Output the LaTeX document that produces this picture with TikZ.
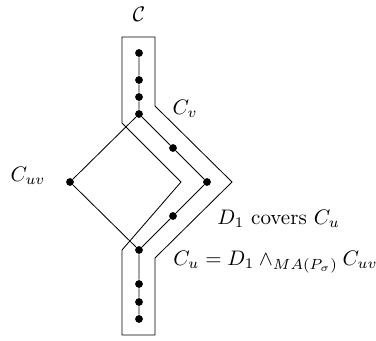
\documentclass[tikz,border=0pt]{standalone}
\usepackage{amsmath,amssymb}
\begin{document}
\begin{tikzpicture}[x=0.476pt,y=-0.476pt,
  dot/.style={circle,fill=black,inner sep=0pt,minimum size=3.7pt},
  lbl/.style={inner sep=0pt}]
\useasboundingbox (0,0) rectangle (376,341);
% outer tube
\draw (122,37) -- (155,37) -- (155,106) -- (232,182) -- (155,258) -- (155,335)
  -- (122,335) -- (122,250) -- (181,182) -- (122,123) -- cycle;
% chain
\node[dot] (a1) at (139,53) {};
\node[dot] (a2) at (139,80) {};
\node[dot] (a3) at (139,97) {};
\node[dot] (a4) at (139,114) {};
\node[dot] (b1) at (173,148) {};
\node[dot] (b2) at (207,182) {};
\node[dot] (b3) at (173,216) {};
\node[dot] (c1) at (139,250) {};
\node[dot] (c2) at (139,284) {};
\node[dot] (c3) at (139,302) {};
\node[dot] (c4) at (139,319) {};
\node[dot] (l) at (70,182) {};
\draw (a1) -- (a2) -- (a3) -- (a4) -- (b1) -- (b2) -- (b3) -- (c1) -- (c2) -- (c3) -- (c4);
\draw (l) -- (a4);
\draw (l) -- (c1);
% labels
\node[lbl] (tC) at (139,14) {$\mathcal{C}$};
\node[lbl] (tCv) at (185,109) {$C_v$};
\node[lbl] (tCuv) at (28,176) {$C_{uv}$};
\node[lbl,anchor=west] (tD) at (217,219) {$D_1$ covers $C_u$};
\node[lbl,anchor=west] (tCu) at (173,262) {$C_u = D_1 \wedge_{MA(P_\sigma)} C_{uv}$};
\end{tikzpicture}
\end{document}
